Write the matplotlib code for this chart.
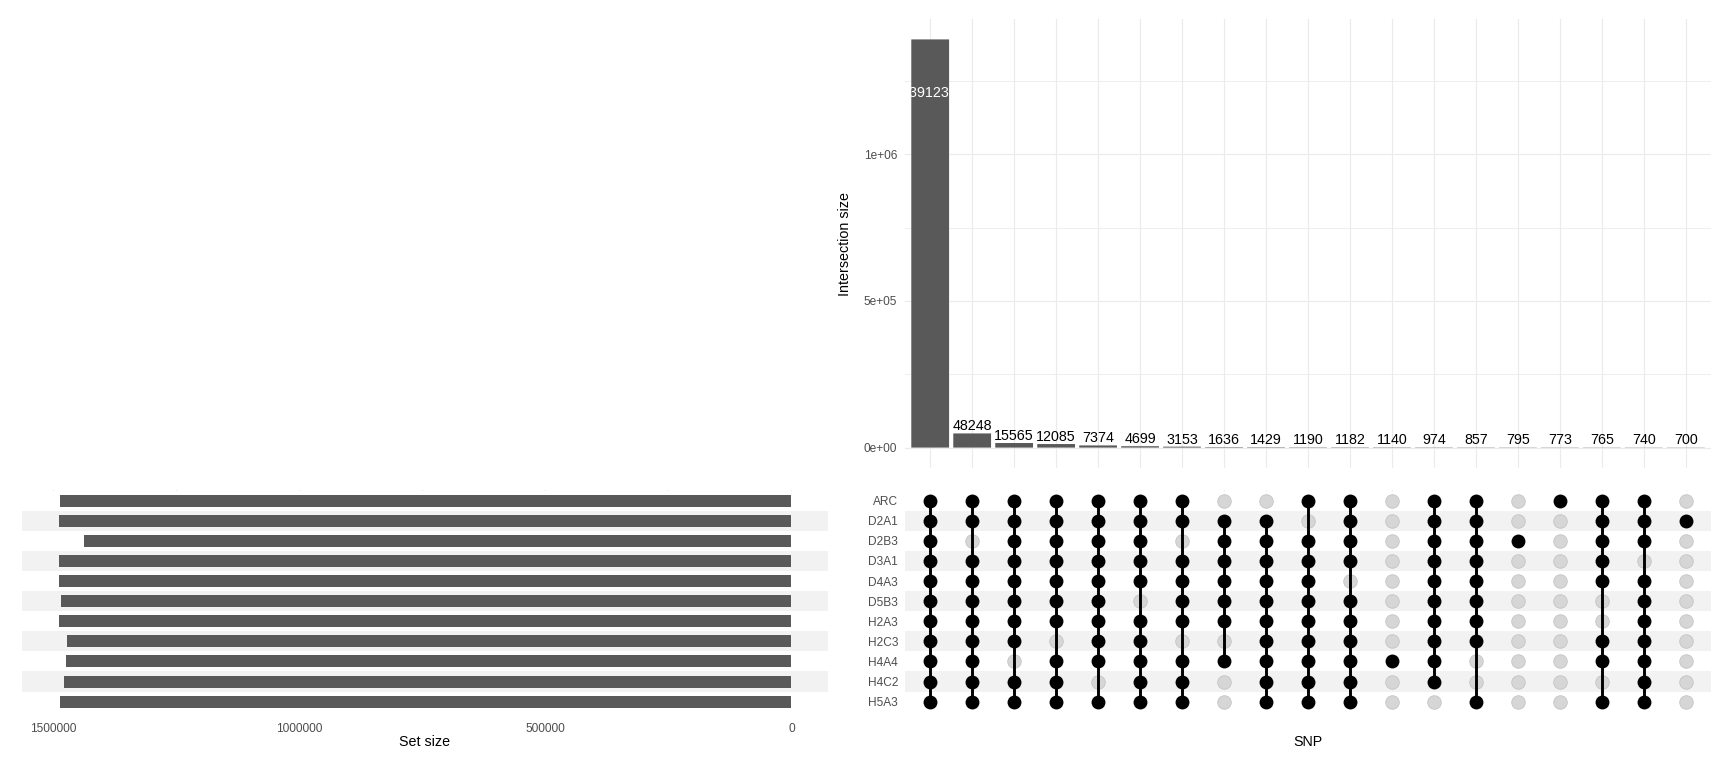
import numpy as np
import matplotlib.pyplot as plt

plt.rcParams['font.family'] = ['Liberation Sans', 'DejaVu Sans']

# ---------------- donnees ----------------
ensembles = ['ARC', 'D2A1', 'D2B3', 'D3A1', 'D4A3', 'D5B3',
             'H2A3', 'H2C3', 'H4A4', 'H4C2', 'H5A3']
tailles_ensembles = [1487000, 1489000, 1438000, 1489000, 1489000, 1485000,
                     1489000, 1473000, 1475000, 1479000, 1487000]

tailles_inter = [1391230, 48248, 15565, 12085, 7374, 4699, 3153, 1636, 1429,
                 1190, 1182, 1140, 974, 857, 795, 773, 765, 740, 700]

# une ligne par intersection, dans l'ordre des ensembles ci-dessus
appartenance = [
    [1, 1, 1, 1, 1, 1, 1, 1, 1, 1, 1],
    [1, 1, 0, 1, 1, 1, 1, 1, 1, 1, 1],
    [1, 1, 1, 1, 1, 1, 1, 1, 0, 1, 1],
    [1, 1, 1, 1, 1, 1, 1, 0, 1, 1, 1],
    [1, 1, 1, 1, 1, 1, 1, 1, 1, 0, 1],
    [1, 1, 1, 1, 1, 0, 1, 1, 1, 1, 1],
    [1, 1, 0, 1, 1, 1, 1, 0, 1, 1, 1],
    [0, 1, 1, 1, 1, 1, 1, 0, 1, 0, 0],
    [0, 1, 1, 1, 1, 1, 1, 1, 1, 1, 1],
    [1, 0, 1, 1, 1, 1, 1, 1, 1, 1, 1],
    [1, 1, 1, 1, 0, 1, 1, 1, 1, 1, 1],
    [0, 0, 0, 0, 0, 0, 0, 0, 1, 0, 0],
    [1, 1, 1, 1, 1, 1, 1, 1, 1, 1, 0],
    [1, 1, 1, 1, 1, 1, 1, 1, 0, 0, 1],
    [0, 0, 1, 0, 0, 0, 0, 0, 0, 0, 0],
    [1, 0, 0, 0, 0, 0, 0, 0, 0, 0, 0],
    [1, 1, 1, 1, 1, 0, 0, 1, 1, 0, 1],
    [1, 1, 1, 0, 1, 1, 1, 1, 1, 1, 1],
    [0, 1, 0, 0, 0, 0, 0, 0, 0, 0, 0],
]

# ---------------- styles ----------------
gris_barre = '#595959'
gris_grille = '#EBEBEB'
gris_bande = '#F2F2F2'
gris_texte = '#4D4D4D'
fs_ticks = 8.6
fs_titre = 10.3

W, H = 1728., 768.
fig = plt.figure(figsize=(W / 100, H / 100), dpi=100)
ax_bar = fig.add_axes([905 / W, 1 - 468 / H, 806 / W, 449 / H])
ax_mat = fig.add_axes([905 / W, 1 - 712.3 / H, 806 / W, 222.3 / H])
ax_set = fig.add_axes([22 / W, 1 - 712.3 / H, 806 / W, 222.3 / H])

n_inter = len(tailles_inter)
n_ens = len(ensembles)
xs = np.arange(n_inter)
ys = np.arange(n_ens)[::-1]  # ARC en haut

for ax in (ax_bar, ax_mat, ax_set):
    for s in ax.spines.values():
        s.set_visible(False)
    ax.tick_params(length=0, which='both')

########## barres des intersections ##########
vmax = max(tailles_inter)
for x in xs:
    ax_bar.axvline(x, color=gris_grille, lw=0.8, zorder=0)
for y in [0, 5e5, 1e6]:
    ax_bar.axhline(y, color=gris_grille, lw=0.8, zorder=0)
for y in [2.5e5, 7.5e5, 1.25e6]:
    ax_bar.axhline(y, color=gris_grille, lw=0.6, zorder=0)
ax_bar.bar(xs, tailles_inter, width=0.9, color=gris_barre, zorder=2, snap=False, lw=0)
ax_bar.set_xlim(-0.6, n_inter - 0.4)
ax_bar.set_ylim(-0.05 * vmax, 1.05 * vmax)
ax_bar.set_xticks([])
ax_bar.set_yticks([0, 5e5, 1e6])
ax_bar.set_yticklabels(['0e+00', '5e+05', '1e+06'], color=gris_texte, fontsize=fs_ticks)
ax_bar.tick_params(axis='y', pad=5.5)
ax_bar.set_ylabel('Intersection size', fontsize=fs_titre)
ax_bar.yaxis.set_label_coords(-0.066, 0.5)

for x, v in zip(xs, tailles_inter):
    if v == vmax:
        ax_bar.annotate(str(v), (x, v), xytext=(0, -38.9), textcoords='offset points',
                        ha='center', va='center', color='white', fontsize=fs_titre, zorder=3)
    else:
        ax_bar.text(x, v, str(v), ha='center', va='bottom', fontsize=fs_titre, zorder=3)

########## matrice ##########
for x in xs:
    ax_mat.axvline(x, color=gris_grille, lw=0.8, zorder=0)
for i, y in enumerate(ys):
    coul = gris_bande if i % 2 == 1 else 'white'
    ax_mat.axhspan(y - 0.5, y + 0.5, color=coul, lw=0, zorder=0.5)
    ax_set.axhspan(y - 0.5, y + 0.5, color=coul, lw=0, zorder=0.5)

for x, memb in zip(xs, appartenance):
    memb = np.array(memb)
    yin = ys[memb == 1]
    yout = ys[memb == 0]
    ax_mat.scatter([x] * len(yout), yout, s=95, color='#D6D6D6',
                   edgecolors='#C4C4C4', linewidths=0.6, zorder=2)
    if len(yin) > 1:
        ax_mat.plot([x, x], [yin.min(), yin.max()], color='black', lw=2.1, zorder=3)
    ax_mat.scatter([x] * len(yin), yin, s=100, color='black', lw=0, zorder=4)

ax_mat.set_xlim(-0.6, n_inter - 0.4)
ax_mat.set_ylim(-0.53, n_ens - 0.47)
ax_mat.set_xticks([])
ax_mat.set_yticks(ys)
ax_mat.set_yticklabels(ensembles, color=gris_texte, fontsize=fs_ticks)
ax_mat.tick_params(axis='y', pad=5)
ax_mat.set_xlabel('SNP', fontsize=fs_titre, va='center')
ax_mat.xaxis.set_label_coords(0.5, -0.132)

########## tailles des ensembles ##########
smax = max(tailles_ensembles)
for v in [1500000, 1250000, 1000000, 750000, 500000, 250000, 0]:
    ax_set.axvline(v, color=gris_grille, lw=0.8, zorder=0)
ax_set.barh(ys, tailles_ensembles, height=0.6, color=gris_barre, zorder=2)
ax_set.set_xlim(1.05 * smax, -0.05 * smax)
ax_set.set_ylim(-0.53, n_ens - 0.47)
ax_set.set_yticks([])
ax_set.set_xticks([1500000, 1000000, 500000, 0])
ax_set.set_xticklabels(['1500000', '1000000', '500000', '0'], color=gris_texte, fontsize=fs_ticks)
ax_set.tick_params(axis='x', pad=7.5)
ax_set.set_xlabel('Set size', fontsize=fs_titre, va='center')
ax_set.xaxis.set_label_coords(0.5, -0.132)

plt.savefig('out.png', dpi=100, facecolor='white')
